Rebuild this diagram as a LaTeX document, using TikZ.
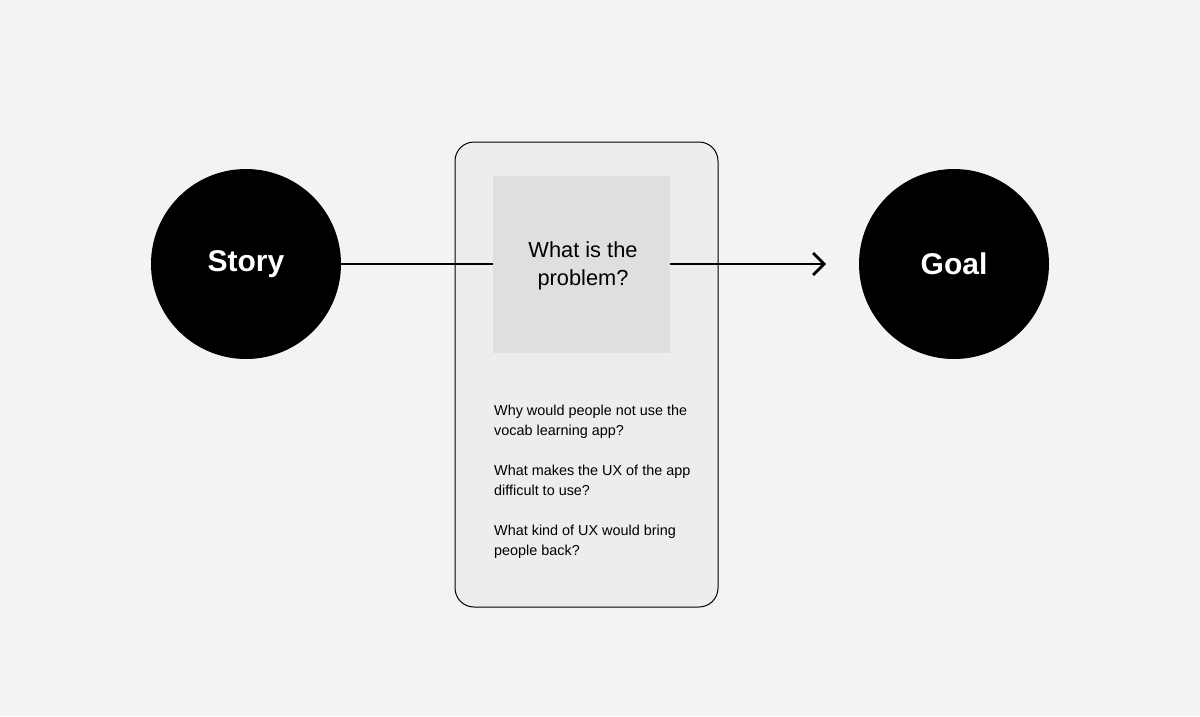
\documentclass[tikz,border=0pt]{standalone}
\usepackage{fontspec}
\setmainfont{Liberation Sans}
\usetikzlibrary{arrows.meta,positioning}
\definecolor{bggray}{HTML}{F3F3F3}
\definecolor{cardgray}{HTML}{EDEDED}
\definecolor{boxgray}{HTML}{DFDFDF}
\tikzset{
  endpoint/.style={circle,fill=black,minimum size=190pt,inner sep=0pt,
    text=white,font=\fontsize{30}{32}\selectfont\bfseries},
  qtext/.style={anchor=base west,inner sep=0pt,align=left,
    font=\fontsize{14.4}{20}\selectfont},
  link/.style={line width=2.8pt}
}
\begin{document}
\begin{tikzpicture}[x=1pt,y=-1pt]
\fill[bggray] (0,0) rectangle (1200,716);
\useasboundingbox (0,0) rectangle (1200,716);
% card in the middle
\draw[fill=cardgray,line width=1pt,rounded corners=19pt] (455,142) rectangle (718,607);
\node[fill=boxgray,minimum size=177pt,inner sep=0pt] (problem) at (581.5,264) {};
\node[align=center,font=\fontsize{21.8}{28}\selectfont,xshift=1.5pt,yshift=-2pt]
  (title) at (problem) {What is the\\problem?};
\node[endpoint] (story) at (246,264) {Story};
\node[endpoint] (goal) at (954,264) {Goal};
\coordinate (tip) at (826,264);
\draw[link] (story.east) -- (problem.west);
\draw[link,-{Straight Barb[length=11pt,width=22pt]}] (problem.east) -- (tip);
% questions
\node[qtext] (q1) at (494,435) {Why would people not use the\\vocab learning app?};
\node[qtext] (q2) at (494,495) {What makes the UX of the app\\difficult to use?};
\node[qtext] (q3) at (494,555) {What kind of UX would bring\\people back?};
\end{tikzpicture}
\end{document}
